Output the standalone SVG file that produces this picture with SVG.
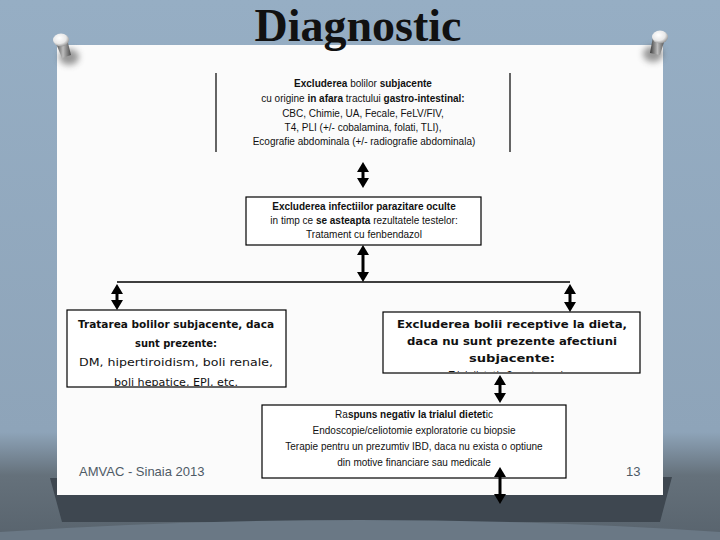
<svg xmlns="http://www.w3.org/2000/svg" width="720" height="540" viewBox="0 0 720 540">
<defs>
<style>
.t{font-family:"Liberation Sans",Arial,sans-serif;font-size:10px;fill:#111}
.b{font-weight:bold}
.h{font-family:"DejaVu Sans",Verdana,sans-serif;font-weight:bold;font-size:10px;fill:#111}
.n{font-family:"DejaVu Sans",Verdana,sans-serif;font-size:10px;fill:#111}
.box{fill:#fff;stroke:#000;stroke-width:1.2}
.side{stroke:#000;stroke-width:1.2;fill:none}
.link{stroke:#000;stroke-width:1.3;fill:none}
.arr{stroke:#000;stroke-width:3;fill:none;marker-start:url(#ah);marker-end:url(#ah)}
.foot{font-family:"Liberation Sans",Arial,sans-serif;font-size:13px;fill:#4e5a66}
</style>
<marker id="ah" viewBox="0 0 10 12" refX="2" refY="6" markerWidth="10" markerHeight="12" markerUnits="userSpaceOnUse" orient="auto-start-reverse">
<path d="M0,0 L10,6 L0,12 Z" fill="#000"/>
</marker>
<linearGradient id="bg" x1="0" y1="0" x2="0" y2="1">
<stop offset="0" stop-color="#96aec4"/>
<stop offset="0.8" stop-color="#8ea4b9"/>
<stop offset="0.88" stop-color="#65717b"/>
<stop offset="1" stop-color="#58636d"/>
</linearGradient>
<radialGradient id="head" cx="0.4" cy="0.35" r="0.7">
<stop offset="0" stop-color="#ffffff"/>
<stop offset="0.6" stop-color="#e8e8e8"/>
<stop offset="1" stop-color="#8a8a8a"/>
</radialGradient>
<linearGradient id="body" x1="0" y1="0" x2="1" y2="0">
<stop offset="0" stop-color="#3a3a3a"/>
<stop offset="0.5" stop-color="#bdbdbd"/>
<stop offset="1" stop-color="#4a4a4a"/>
</linearGradient>
<filter id="blur" x="-50%" y="-50%" width="200%" height="200%"><feGaussianBlur stdDeviation="3"/></filter>
<clipPath id="c3"><rect x="67" y="310" width="219" height="76"/></clipPath>
<clipPath id="c4"><rect x="383" y="312" width="257" height="60"/></clipPath>
</defs>

<!-- background -->
<rect width="720" height="540" fill="url(#bg)"/>
<path d="M50,478 L672,477 L660,522 L62,522 Z" fill="#3e4750"/>
<path d="M0,532 Q360,508 720,532 L720,540 L0,540 Z" fill="#6a7885"/>

<!-- paper -->
<rect x="57" y="45" width="606" height="450" fill="#fbfbfb"/>

<!-- pins -->
<g id="pin-left">
<ellipse cx="69" cy="57" rx="10" ry="8" fill="#555" opacity="0.6" filter="url(#blur)"/>
<path d="M55,41 L67,39 L71,55 L62,58 Z" fill="url(#body)"/>
<ellipse cx="61" cy="40" rx="8" ry="6.5" fill="url(#head)"/>
</g>
<g id="pin-right">
<ellipse cx="653" cy="54" rx="10" ry="8" fill="#555" opacity="0.6" filter="url(#blur)"/>
<path d="M653,37 L665,39 L660,55 L650,53 Z" fill="url(#body)"/>
<ellipse cx="660" cy="37" rx="8" ry="6.5" fill="url(#head)"/>
</g>

<!-- title -->
<text x="358" y="41" text-anchor="middle" font-family="'Liberation Serif','Times New Roman',serif" font-weight="bold" font-size="46" fill="#111">Diagnostic</text>

<!-- node 1 -->
<g id="node1">
<line class="side" x1="216" y1="73" x2="216" y2="152"/>
<line class="side" x1="510" y1="73" x2="510" y2="152"/>
<text class="t" x="363" y="87" text-anchor="middle"><tspan class="b">Excluderea</tspan> bolilor <tspan class="b">subjacente</tspan></text>
<text class="t" x="363" y="102" text-anchor="middle">cu origine <tspan class="b">in afara</tspan> tractului <tspan class="b">gastro-intestinal:</tspan></text>
<text class="t" x="363" y="117" text-anchor="middle">CBC, Chimie, UA, Fecale, FeLV/FIV,</text>
<text class="t" x="363" y="131" text-anchor="middle">T4, PLI (+/- cobalamina, folati, TLI),</text>
<text class="t" x="364" y="145" text-anchor="middle">Ecografie abdominala (+/- radiografie abdominala)</text>
</g>

<!-- node 2 -->
<g id="node2">
<rect class="box" x="246" y="197" width="235" height="48"/>
<text class="t" x="364" y="210" text-anchor="middle"><tspan class="b">Excluderea infectiilor parazitare oculte</tspan></text>
<text class="t" x="364" y="224" text-anchor="middle">in timp ce <tspan class="b">se asteapta</tspan> rezultatele testelor:</text>
<text class="t" x="364" y="238" text-anchor="middle">Tratament cu fenbendazol</text>
</g>

<!-- node 3 -->
<g id="node3">
<rect class="box" x="67" y="310" width="219" height="77"/>
<text class="h" x="176" y="328" text-anchor="middle" textLength="196" lengthAdjust="spacingAndGlyphs">Tratarea bolilor subjacente, daca</text>
<text class="h" x="176" y="347" text-anchor="middle" textLength="82" lengthAdjust="spacingAndGlyphs">sunt prezente:</text>
<text class="n" x="176" y="366" text-anchor="middle" textLength="194" lengthAdjust="spacingAndGlyphs">DM, hipertiroidism, boli renale,</text>
<g clip-path="url(#c3)">
<text class="n" x="176" y="386" text-anchor="middle" textLength="124" lengthAdjust="spacingAndGlyphs">boli hepatice, EPI, etc.</text>
</g>
</g>

<!-- node 4 -->
<g id="node4">
<rect class="box" x="383" y="312" width="257" height="61"/>
<text class="h" x="512" y="328" text-anchor="middle" textLength="230" lengthAdjust="spacingAndGlyphs">Excluderea bolii receptive la dieta,</text>
<text class="h" x="512" y="345" text-anchor="middle" textLength="210" lengthAdjust="spacingAndGlyphs">daca nu sunt prezente afectiuni</text>
<text class="h" x="512" y="362" text-anchor="middle" textLength="86" lengthAdjust="spacingAndGlyphs">subjacente:</text>
<g clip-path="url(#c4)">
<text class="n" x="506" y="379" text-anchor="middle" textLength="114" lengthAdjust="spacingAndGlyphs">Trial dietetic 2 saptamani</text>
</g>
</g>

<!-- node 5 -->
<g id="node5">
<rect class="box" x="262" y="405" width="304" height="73"/>
<text class="t" x="414" y="418" text-anchor="middle">Ra<tspan class="b">spuns negativ la trialul dietet</tspan>ic</text>
<text class="t" x="414" y="434" text-anchor="middle">Endoscopie/celiotomie exploratorie cu biopsie</text>
<text class="t" x="414" y="450" text-anchor="middle">Terapie pentru un prezumtiv IBD, daca nu exista o optiune</text>
<text class="t" x="414" y="466" text-anchor="middle">din motive financiare sau medicale</text>
</g>

<!-- connectors -->
<g id="connectors">
<line class="arr" x1="363" y1="170" x2="363" y2="180"/>
<line class="arr" x1="363" y1="253" x2="363" y2="274"/>
<line class="link" x1="117" y1="282" x2="570" y2="282"/>
<line class="arr" x1="117" y1="292" x2="117" y2="302"/>
<line class="arr" x1="570" y1="292" x2="570" y2="304"/>
<line class="arr" x1="500" y1="383" x2="500" y2="395"/>
<line class="arr" x1="500" y1="475" x2="500" y2="496"/>
</g>

<!-- footer -->
<text class="foot" x="79" y="476">AMVAC - Sinaia 2013</text>
<text class="foot" x="626" y="476">13</text>
</svg>
